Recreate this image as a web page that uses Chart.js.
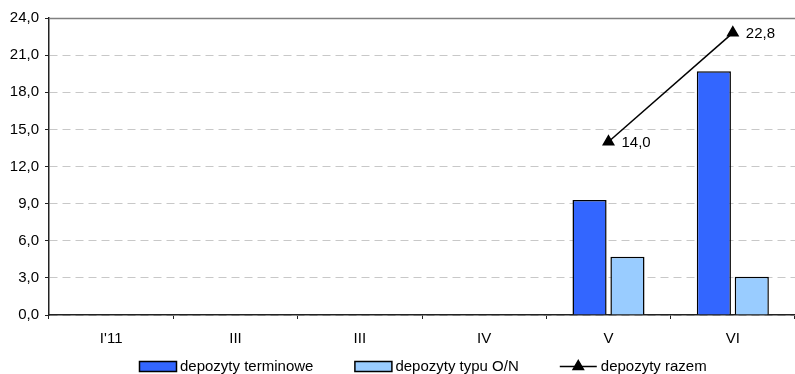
<!DOCTYPE html>
<html lang="pl">
<head>
<meta charset="utf-8">
<title>Depozyty</title>
<script src="https://cdn.jsdelivr.net/npm/chart.js@4/dist/chart.umd.min.js"></script>
<style>
  html, body { margin: 0; padding: 0; background: #ffffff; }
  #wrap { width: 795px; height: 374px; }
</style>
</head>
<body>
<div id="wrap"><canvas id="chart" width="795" height="374"></canvas></div>
<script>
// Months on the category axis
const categories = ["I'11", "III", "III", "IV", "V", "VI"];
// Deposit amounts (mld zł)
const termDeposits = [null, null, null, null, 9.3, 19.7];
const overnightDeposits = [null, null, null, null, 4.7, 3.1];
const totalDeposits = [null, null, null, null, 14.0, 22.8];
// Value axis range
const yMin = 0;
const yMax = 24;
const yStep = 3;

const FONT = "'Liberation Sans', Arial, sans-serif";
const FONT_SIZE = 15;
const fmt = v => v.toFixed(1).replace('.', ',');

// Solid frame line along the top of the plot area
const topBorder = {
  id: 'topBorder',
  afterDraw(chart) {
    const { ctx, chartArea } = chart;
    ctx.save();
    ctx.strokeStyle = '#808080';
    ctx.lineWidth = 1.5;
    ctx.beginPath();
    ctx.moveTo(chartArea.left, chartArea.top + 0.5);
    ctx.lineTo(chartArea.right, chartArea.top + 0.5);
    ctx.stroke();
    ctx.restore();
  }
};

// Value labels to the right of the total-deposits markers
const pointLabels = {
  id: 'pointLabels',
  afterDatasetsDraw(chart) {
    const { ctx } = chart;
    chart.data.datasets.forEach((ds, i) => {
      if (ds.type !== 'line') return;
      const meta = chart.getDatasetMeta(i);
      ctx.save();
      ctx.font = FONT_SIZE + 'px ' + FONT;
      ctx.fillStyle = '#000';
      ctx.textAlign = 'left';
      ctx.textBaseline = 'middle';
      meta.data.forEach((pt, j) => {
        const v = ds.data[j];
        if (v === null || v === undefined) return;
        ctx.fillText(fmt(v), pt.x + 13, pt.y + 1);
      });
      ctx.restore();
    });
  }
};

// Legend row under the category axis
const bottomLegend = {
  id: 'bottomLegend',
  afterDraw(chart) {
    const { ctx } = chart;
    const yMid = 366.5;
    const boxW = 37, boxH = 10, gapText = 4, gapItem = 41;
    let x = 139;
    ctx.save();
    ctx.font = FONT_SIZE + 'px ' + FONT;
    ctx.textBaseline = 'middle';
    ctx.textAlign = 'left';
    chart.data.datasets.forEach(ds => {
      if (ds.type === 'line') {
        ctx.strokeStyle = ds.borderColor;
        ctx.lineWidth = 1.5;
        ctx.beginPath();
        ctx.moveTo(x, yMid);
        ctx.lineTo(x + boxW, yMid);
        ctx.stroke();
        Chart.helpers.drawPoint(ctx, {
          pointStyle: 'triangle', radius: 6, borderWidth: 1
        }, x + boxW / 2, yMid);
        ctx.fillStyle = ds.pointBackgroundColor;
        ctx.fill();
      } else {
        ctx.fillStyle = ds.backgroundColor;
        ctx.fillRect(x + 0.5, yMid - boxH / 2, boxW, boxH);
        ctx.strokeStyle = '#000';
        ctx.lineWidth = 1.5;
        ctx.strokeRect(x + 0.5, yMid - boxH / 2, boxW, boxH);
      }
      ctx.fillStyle = '#000';
      const tx = x + boxW + gapText;
      ctx.fillText(ds.label, tx, yMid);
      x = tx + ctx.measureText(ds.label).width + gapItem;
    });
    ctx.restore();
  }
};

Chart.defaults.font.family = FONT;
Chart.defaults.font.size = FONT_SIZE;
Chart.defaults.color = '#000';

new Chart(document.getElementById('chart'), {
  data: {
    labels: categories,
    datasets: [
      {
        type: 'bar',
        label: 'depozyty terminowe',
        data: termDeposits,
        backgroundColor: '#3366FF',
        borderColor: '#000',
        borderWidth: 1.5,
        categoryPercentage: 0.61,
        barPercentage: 0.9,
        order: 1
      },
      {
        type: 'bar',
        label: 'depozyty typu O/N',
        data: overnightDeposits,
        backgroundColor: '#99CCFF',
        borderColor: '#000',
        borderWidth: 1.5,
        categoryPercentage: 0.61,
        barPercentage: 0.9,
        order: 1
      },
      {
        type: 'line',
        label: 'depozyty razem',
        data: totalDeposits,
        borderColor: '#000',
        borderWidth: 1.5,
        pointStyle: 'triangle',
        pointRadius: 6,
        pointHoverRadius: 6,
        pointBackgroundColor: '#000',
        pointBorderColor: '#000',
        spanGaps: false,
        clip: false,
        order: 0
      }
    ]
  },
  options: {
    responsive: false,
    animation: false,
    devicePixelRatio: 1,
    layout: { autoPadding: false, padding: { top: 18, right: -3, left: 0, bottom: 0 } },
    plugins: {
      legend: { display: false },
      tooltip: { enabled: false }
    },
    scales: {
      x: {
        offset: true,
        grid: {
          display: true,
          offset: true,
          drawOnChartArea: false,
          tickLength: 4,
          color: '#222',
          lineWidth: 1
        },
        border: { color: '#222', width: 1.5 },
        ticks: { padding: 11, color: '#000', maxRotation: 0 },
        afterFit(scale) {
          scale.height = 59;
          scale.paddingLeft = 0;
          scale.paddingRight = 0;
        }
      },
      y: {
        min: yMin,
        max: yMax,
        ticks: {
          stepSize: yStep,
          padding: 6,
          color: '#000',
          callback: v => fmt(v)
        },
        grid: {
          color: '#c8c8c8',
          lineWidth: 1,
          tickLength: 4,
          tickColor: '#222',
          tickBorderDash: [],
          tickWidth: 1
        },
        border: { color: '#222', width: 1.5, dash: [8, 5] },
        afterFit(scale) { scale.width = 49; }
      }
    }
  },
  plugins: [topBorder, pointLabels, bottomLegend]
});
</script>
</body>
</html>
